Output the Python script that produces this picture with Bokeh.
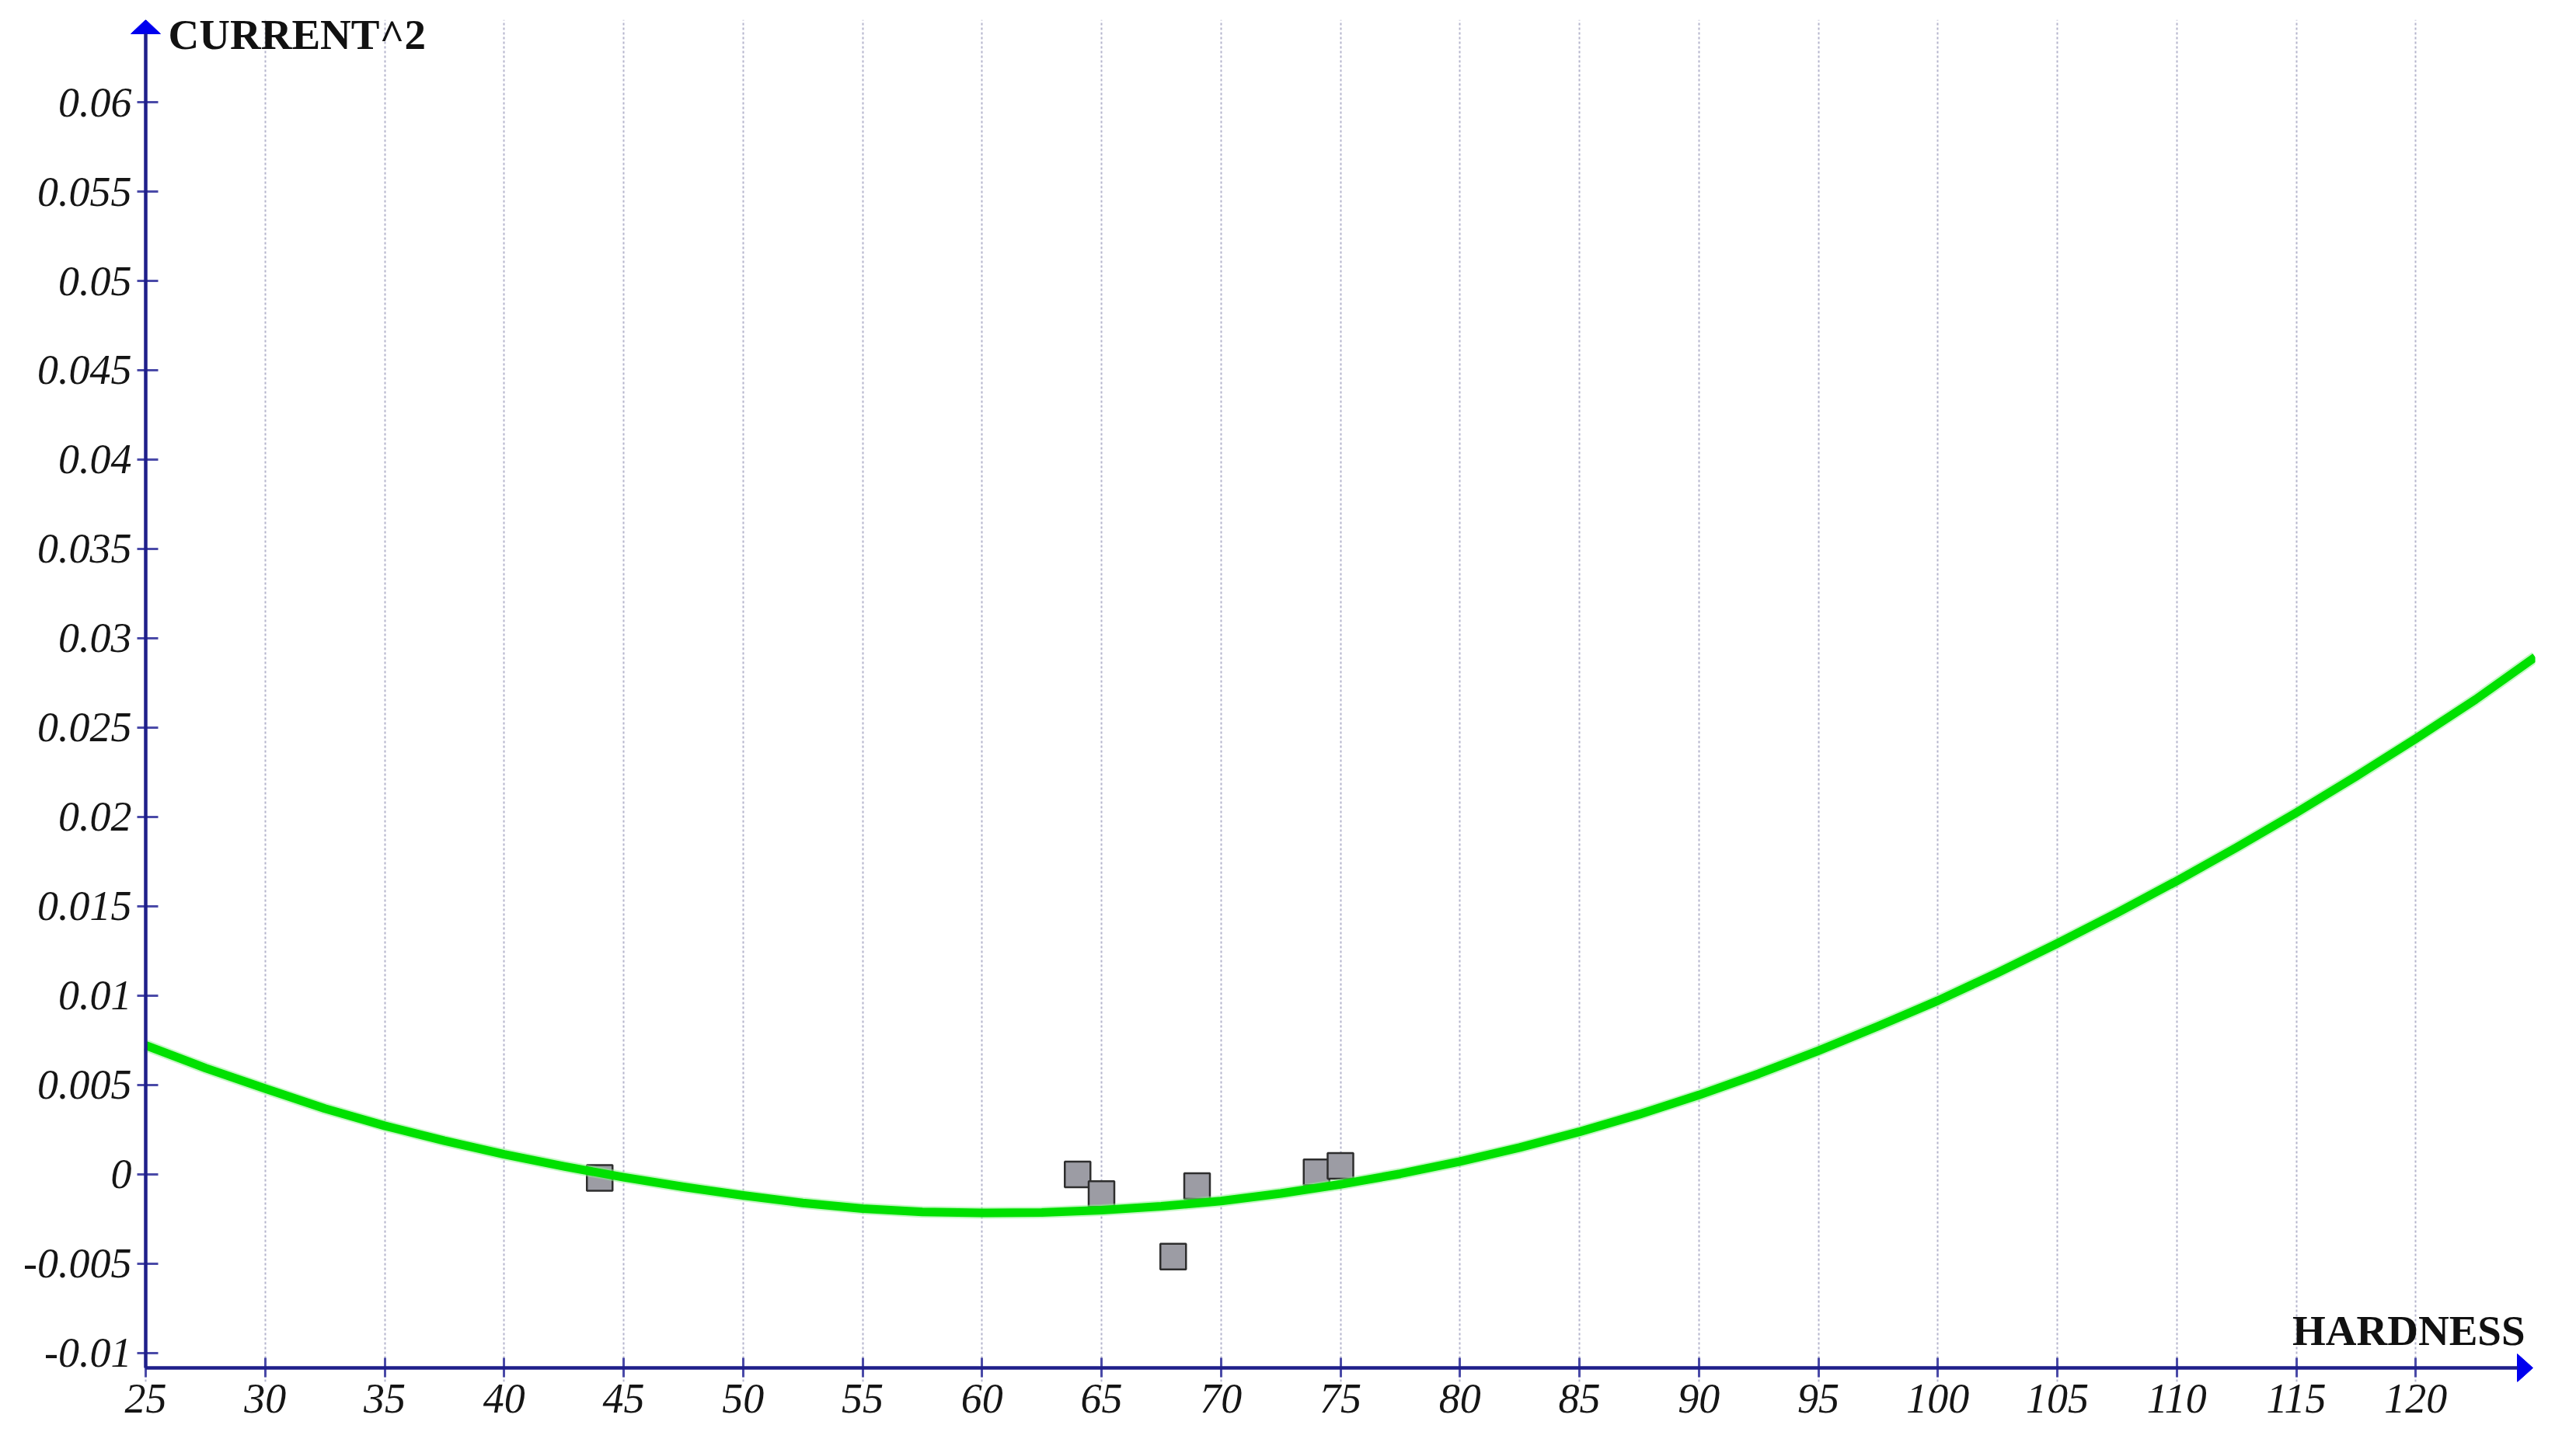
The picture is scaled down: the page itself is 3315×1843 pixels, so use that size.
from bokeh.plotting import figure
from bokeh.models import Range1d, FixedTicker, Label, ColumnDataSource, LinearAxis
from bokeh.embed import file_html
from bokeh.resources import INLINE

# ---- data ----
hardness_pts = [44, 64, 65, 68, 69, 74, 75]
current2_pts = [-0.0002, 0.0000, -0.0011, -0.0046, -0.00066, 0.00012, 0.00048]

curve_x = [25, 27.5, 30, 32.5, 35, 37.5, 40, 42.5, 45, 47.5, 50, 52.5, 55, 57.5,
           60, 62.5, 65, 67.5, 70, 72.5, 75, 77.5, 80, 82.5, 85, 87.5, 90, 92.5,
           95, 97.5, 100, 102.5, 105, 107.5, 110, 112.5, 115, 117.5, 120, 122.5,
           125]
curve_y = [0.00722, 0.00595, 0.00480, 0.00368, 0.00272, 0.00188, 0.00112,
           0.00045, -0.00016, -0.00070, -0.00118, -0.00160, -0.00192, -0.00210,
           -0.00216, -0.00213, -0.00200, -0.00179, -0.00149, -0.00107, -0.00056,
           0.00003, 0.00072, 0.00150, 0.00238, 0.00336, 0.00444, 0.00563,
           0.00692, 0.00829, 0.00972, 0.01128, 0.01292, 0.01463, 0.01642,
           0.01829, 0.02024, 0.02227, 0.02438, 0.02657, 0.02895]

x_ticks = [25, 30, 35, 40, 45, 50, 55, 60, 65, 70, 75, 80, 85, 90, 95, 100,
           105, 110, 115, 120]
x_tick_labels = ["25", "30", "35", "40", "45", "50", "55", "60", "65", "70",
                 "75", "80", "85", "90", "95", "100", "105", "110", "115", "120"]
y_ticks = [-0.01, -0.005, 0, 0.005, 0.01, 0.015, 0.02, 0.025, 0.03, 0.035,
           0.04, 0.045, 0.05, 0.055, 0.06]
y_tick_labels = ["-0.01", "-0.005", "0", "0.005", "0.01", "0.015", "0.02",
                 "0.025", "0.03", "0.035", "0.04", "0.045", "0.05", "0.055",
                 "0.06"]

x_title = "HARDNESS"
y_title = "CURRENT^2"

# ---- layout (pixels) ----
FIG_W, FIG_H = 3314, 1842
AXIS_X_PX, AXIS_Y_PX = 187, 1760          # where the two axis lines sit
PAD_L, PAD_B = 22, 18                      # frame room beyond the axes (arrow heads)
FRAME_L, FRAME_R = AXIS_X_PX - PAD_L, 3262
FRAME_T, FRAME_B = 25, AXIS_Y_PX + PAD_B

X_AX, X_END = 25, 125
Y_AX, Y_TOP = -0.01083, 0.06461
PX_X = (FRAME_R - AXIS_X_PX) / (X_END - X_AX)     # px per x unit
PX_Y = (AXIS_Y_PX - FRAME_T) / (Y_TOP - Y_AX)     # px per y unit
X_START = X_AX - PAD_L / PX_X
Y_START = Y_AX - PAD_B / PX_Y
X_TIP = X_END - 3 / PX_X

AXIS_COLOR = "#1f1f8a"
TICK_COLOR = "#4a4aa8"
ARROW_COLOR = "#0000ee"
SERIF = "Liberation Serif"

p = figure(width=FIG_W, height=FIG_H, output_backend="svg", toolbar_location=None,
           x_range=Range1d(X_START, X_END), y_range=Range1d(Y_START, Y_TOP),
           min_border_left=FRAME_L, min_border_right=FIG_W - FRAME_R,
           min_border_top=FRAME_T, min_border_bottom=FIG_H - FRAME_B)
p.outline_line_color = None
p.background_fill_color = "white"
p.border_fill_color = "white"

xa = p.xaxis[0]
ya = p.yaxis[0]
for ax in (xa, ya):
    ax.axis_line_color = None
    ax.major_tick_line_color = TICK_COLOR
    ax.major_tick_line_width = 3
    ax.minor_tick_line_color = None
    ax.minor_tick_in = 0
    ax.minor_tick_out = 0
    ax.major_label_text_font = SERIF
    ax.major_label_text_font_style = "italic"
    ax.major_label_text_font_size = "54px"
    ax.major_label_text_color = "#151515"

# bottom axis: tick labels + ticks crossing the axis line (13 px up, 12 px down)
xa.ticker = FixedTicker(ticks=x_ticks)
xa.major_label_overrides = dict(zip(x_ticks, x_tick_labels))
xa.major_tick_in = PAD_B + 13
xa.major_tick_out = 12 - PAD_B
xa.major_label_standoff = 21 - PAD_B

# left axis: tick labels + ticks crossing the axis line (11 px out, 16 px in)
ya.ticker = FixedTicker(ticks=y_ticks)
ya.major_label_overrides = dict(zip(y_ticks, y_tick_labels))
ya.major_tick_in = PAD_L + 16
ya.major_tick_out = 11 - PAD_L
ya.major_label_standoff = 18 - PAD_L

# the axis lines themselves, at x = 25 and y = Y_AX
y_line = LinearAxis(fixed_location=X_AX, ticker=FixedTicker(ticks=[]),
                    bounds=(Y_AX, Y_TOP - 18 / PX_Y),
                    axis_line_color=AXIS_COLOR, axis_line_width=4.5,
                    major_tick_line_color=None, major_tick_in=0, major_tick_out=0,
                    minor_tick_line_color=None, minor_tick_in=0, minor_tick_out=0,
                    major_label_standoff=0)
p.add_layout(y_line, "left")
x_line = LinearAxis(fixed_location=Y_AX, ticker=FixedTicker(ticks=[]),
                    bounds=(X_AX, X_TIP - 20 / PX_X),
                    axis_line_color=AXIS_COLOR, axis_line_width=4.5,
                    major_tick_line_color=None, major_tick_in=0, major_tick_out=0,
                    minor_tick_line_color=None, minor_tick_in=0, minor_tick_out=0,
                    major_label_standoff=0)
p.add_layout(x_line, "below")

p.ygrid.grid_line_color = None
p.xgrid.grid_line_color = "#b4b4cc"
p.xgrid.grid_line_width = 2
p.xgrid.grid_line_dash = "3 3"

# data
pts = ColumnDataSource(dict(x=hardness_pts, y=current2_pts))
p.scatter("x", "y", source=pts, marker="square", size=33,
          fill_color="#9c9ca4", line_color="#2e2e2e", line_width=2.5)

crv = ColumnDataSource(dict(x=curve_x, y=curve_y))
p.line("x", "y", source=crv, line_color="#8af08a", line_width=15, line_alpha=0.5,
       line_join="round")
p.line("x", "y", source=crv, line_color="#00e000", line_width=11, line_join="round")

# arrow heads at the axis ends
head_xs = [[X_AX - 19 / PX_X, X_AX, X_AX + 19 / PX_X],
           [X_TIP - 20 / PX_X, X_TIP, X_TIP - 20 / PX_X]]
head_ys = [[Y_TOP - 18 / PX_Y, Y_TOP, Y_TOP - 18 / PX_Y],
           [Y_AX + 18 / PX_Y, Y_AX, Y_AX - 18 / PX_Y]]
p.patches(head_xs, head_ys, fill_color=ARROW_COLOR, line_color=ARROW_COLOR,
          line_width=1)

# axis titles
p.add_layout(Label(x=X_AX + (216 - AXIS_X_PX) / PX_X, y=Y_TOP - (44 - FRAME_T) / PX_Y,
                   text=y_title, text_font=SERIF, text_font_style="bold",
                   text_font_size="55px", text_color="#111111",
                   text_align="left", text_baseline="alphabetic"))
p.add_layout(Label(x=X_AX + (3249 - AXIS_X_PX) / PX_X, y=Y_AX + (AXIS_Y_PX - 1712) / PX_Y,
                   text=x_title, text_font=SERIF, text_font_style="bold",
                   text_font_size="55px", text_color="#111111",
                   text_align="right", text_baseline="alphabetic"))

open("out.html", "w").write(file_html(p, INLINE))
